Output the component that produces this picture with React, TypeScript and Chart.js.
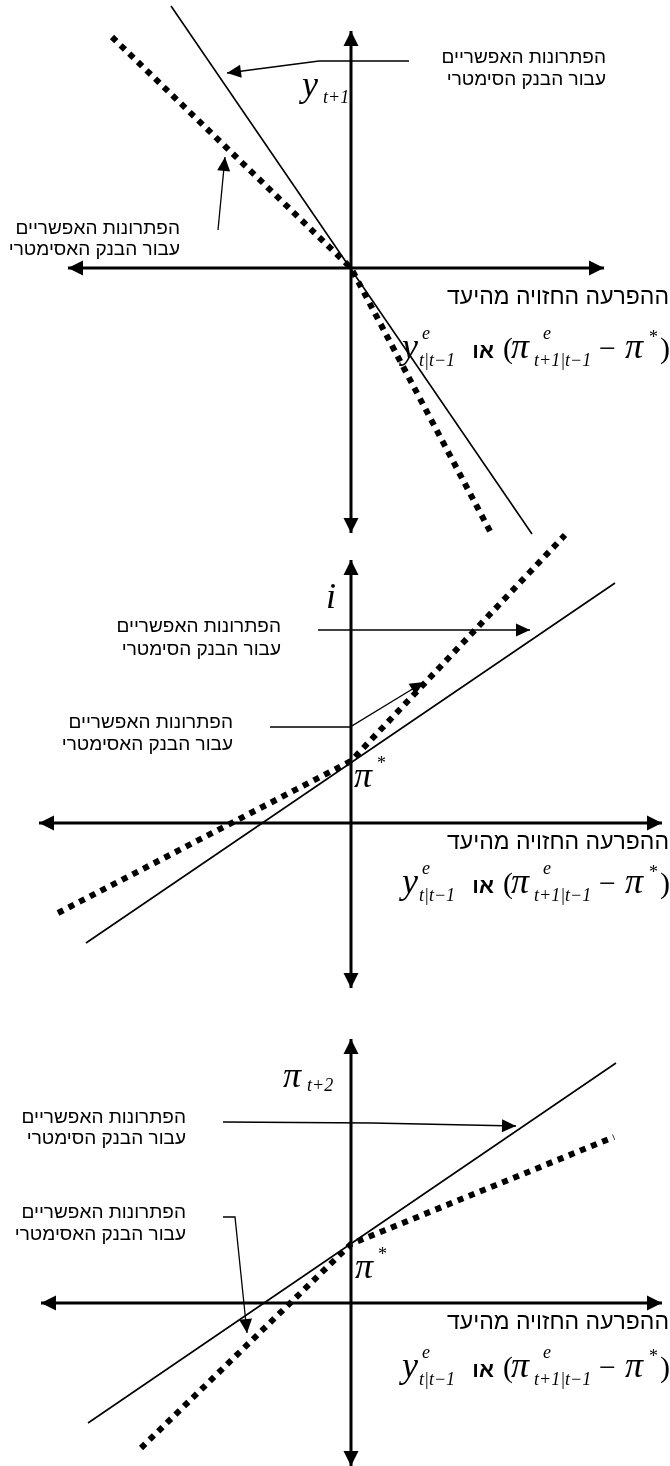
import React, { useEffect, useRef } from "react";
import { Chart, registerables } from "chart.js";

Chart.register(...registerables);

// ---------- data (units: origin at axes intersection, y up) ----------
// Panel 1: y_{t+1}
const p1HAxis = [{ x: -28.3, y: 0 }, { x: 25.3, y: 0 }];
const p1VAxis = [{ x: 0, y: 23.7 }, { x: 0, y: -26.5 }];
const p1Symmetric = [{ x: -18.0, y: 26.2 }, { x: 18.1, y: -26.6 }];
const p1Asymmetric = [{ x: -23.9, y: 23.1 }, { x: 0, y: 0 }, { x: 14.1, y: -26.7 }];
const p1SymPointer = [{ x: 5.8, y: 20.7 }, { x: -3.2, y: 20.7 }, { x: -12.4, y: 19.5 }];
const p1AsymPointer = [{ x: -13.3, y: 3.8 }, { x: -12.6, y: 11.1 }];

// Panel 2: i
const p2HAxis = [{ x: -31.2, y: 0 }, { x: 31.1, y: 0 }];
const p2VAxis = [{ x: 0, y: 26.3 }, { x: 0, y: -16.5 }];
const p2Symmetric = [{ x: -26.5, y: -12.0 }, { x: 26.4, y: 24.0 }];
const p2Asymmetric = [{ x: -29.3, y: -9.0 }, { x: 0, y: 6.2 }, { x: 21.4, y: 28.8 }];
const p2SymPointer = [{ x: -3.3, y: 19.3 }, { x: 17.9, y: 19.3 }];
const p2AsymPointer = [{ x: -8.1, y: 9.6 }, { x: -0.1, y: 9.6 }, { x: 7.3, y: 14.1 }];

// Panel 3: pi_{t+2}
const p3HAxis = [{ x: -31.0, y: 0 }, { x: 31.1, y: 0 }];
const p3VAxis = [{ x: 0, y: 26.4 }, { x: 0, y: -16.3 }];
const p3Symmetric = [{ x: -26.3, y: -12.0 }, { x: 26.5, y: 24.0 }];
const p3Asymmetric = [{ x: -21.0, y: -14.5 }, { x: 0, y: 5.9 }, { x: 26.3, y: 16.6 }];
const p3SymPointer = [{ x: -12.8, y: 18.1 }, { x: 2.1, y: 18.0 }, { x: 16.5, y: 17.7 }];
const p3AsymPointer = [{ x: -12.8, y: 8.6 }, { x: -11.6, y: 8.6 }, { x: -10.4, y: -3.0 }];

// ---------- text ----------
const SYM_LINES = ["הפתרונות האפשריים", "עבור הבנק הסימטרי"];
const ASYM_LINES = ["הפתרונות האפשריים", "עבור הבנק האסימטרי"];
const X_LABEL = "ההפרעה החזויה מהיעד";
const OR_WORD = "או";

// ---------- layout ----------
const CANVAS_W = 670;
const CANVAS_H = 1466;
const UNIT_PX = 10;
const PANEL_ORIGINS: [number, number][] = [
  [351, 268],
  [351, 823],
  [351, 1303],
];

const HEB_FONT = '"Liberation Sans", Arial, "DejaVu Sans", sans-serif';
const MATH_FONT = '"Liberation Serif", "Times New Roman", serif';

type PanelLayout = {
  sym: [number, number, number]; // right dx, first line dy, line gap
  asym: [number, number, number];
  xLabelDy: number;
  formulaDy: number;
};
const PANEL_LAYOUT: PanelLayout[] = [
  { sym: [255, -210, 22], asym: [-171, -39, 21], xLabelDy: 30, formulaDy: 90 },
  { sym: [-70, -196, 23], asym: [-118, -100, 22], xLabelDy: 20, formulaDy: 70 },
  { sym: [-165, -185, 21], asym: [-165, -90, 22], xLabelDy: 20, formulaDy: 74 },
];

const AXIS_W = 3;
const AXIS_HEAD: [number, number] = [15, 7.5];
const PTR_HEAD: [number, number] = [14, 6.5];

function lineDs(panel: number, data: any[], kind: "axis" | "solid" | "dotted" | "pointer", extra: any = {}) {
  const base: any = {
    data,
    xAxisID: "x" + panel,
    yAxisID: "y" + panel,
    showLine: true,
    pointRadius: 0,
    borderColor: "#000",
    backgroundColor: "#000",
    fill: false,
    tension: 0,
  };
  if (kind === "axis") {
    base.borderWidth = AXIS_W;
    base.arrowStart = AXIS_HEAD;
    base.arrowEnd = AXIS_HEAD;
  } else if (kind === "solid") {
    base.borderWidth = 1.6;
  } else if (kind === "dotted") {
    base.borderWidth = 6;
    base.borderDash = [6, 6];
    base.borderCapStyle = "butt";
    base.borderJoinStyle = "miter";
  } else {
    base.borderWidth = 1.3;
    base.arrowEnd = PTR_HEAD;
  }
  return { ...base, ...extra };
}

function drawHead(ctx: CanvasRenderingContext2D, from: any, to: any, head: [number, number]) {
  const dx = to.x - from.x;
  const dy = to.y - from.y;
  const len = Math.hypot(dx, dy) || 1;
  const ux = dx / len;
  const uy = dy / len;
  const bx = to.x - ux * head[0];
  const by = to.y - uy * head[0];
  const nx = -uy;
  const ny = ux;
  ctx.beginPath();
  ctx.moveTo(to.x, to.y);
  ctx.lineTo(bx + nx * head[1], by + ny * head[1]);
  ctx.lineTo(bx - nx * head[1], by - ny * head[1]);
  ctx.closePath();
  ctx.fill();
}

function txt(ctx: CanvasRenderingContext2D, s: string, x: number, y: number, font: string, align: CanvasTextAlign = "left", dir: CanvasDirection = "ltr", baseline: CanvasTextBaseline = "alphabetic") {
  ctx.font = font;
  ctx.textAlign = align;
  ctx.direction = dir;
  ctx.textBaseline = baseline;
  ctx.fillText(s, x, y);
}

const BIG = "italic 36px " + MATH_FONT;
const SMALL = "italic 18px " + MATH_FONT;
const UPRIGHT = "30px " + MATH_FONT;
const STAR = "18px " + MATH_FONT;

function drawFormula(ctx: CanvasRenderingContext2D, x0: number, base: number) {
  txt(ctx, "y", x0 - 2, base, BIG);
  txt(ctx, "e", x0 + 18, base - 19, SMALL);
  txt(ctx, "t|t−1", x0 + 15, base + 8, SMALL);
  txt(ctx, OR_WORD, x0 + 90, base, "bold 22px " + HEB_FONT, "right", "rtl");
  txt(ctx, "(", x0 + 99, base, UPRIGHT);
  txt(ctx, "π", x0 + 107, base, BIG);
  txt(ctx, "e", x0 + 139, base - 19, SMALL);
  txt(ctx, "t+1|t−1", x0 + 130, base + 8, SMALL);
  txt(ctx, "−", x0 + 195, base, UPRIGHT);
  txt(ctx, "π", x0 + 221, base, BIG);
  txt(ctx, "*", x0 + 245, base - 15, STAR);
  txt(ctx, ")", x0 + 256, base, UPRIGHT);
}

const overlayPlugin = {
  id: "overlay",
  afterDatasetsDraw(chart: any) {
    const ctx: CanvasRenderingContext2D = chart.ctx;
    ctx.save();
    ctx.fillStyle = "#000";
    chart.data.datasets.forEach((ds: any, i: number) => {
      const pts = chart.getDatasetMeta(i).data;
      if (ds.arrowEnd) drawHead(ctx, pts[pts.length - 2], pts[pts.length - 1], ds.arrowEnd);
      if (ds.arrowStart) drawHead(ctx, pts[1], pts[0], ds.arrowStart);
    });

    PANEL_LAYOUT.forEach((L, p) => {
      const ox = chart.scales["x" + p].getPixelForValue(0);
      const oy = chart.scales["y" + p].getPixelForValue(0);
      const annFont = "19px " + HEB_FONT;
      SYM_LINES.forEach((s, k) => txt(ctx, s, ox + L.sym[0], oy + L.sym[1] + k * L.sym[2], annFont, "right", "rtl", "middle"));
      ASYM_LINES.forEach((s, k) => txt(ctx, s, ox + L.asym[0], oy + L.asym[1] + k * L.asym[2], annFont, "right", "rtl", "middle"));
      txt(ctx, X_LABEL, ox + 318, oy + L.xLabelDy, "23px " + HEB_FONT, "right", "rtl", "middle");
      drawFormula(ctx, ox + 53, oy + L.formulaDy);

      if (p === 0) {
        txt(ctx, "y", ox - 49, oy - 172, BIG);
        txt(ctx, "t+1", ox - 28, oy - 165, SMALL);
      } else if (p === 1) {
        txt(ctx, "i", ox - 25, oy - 215, BIG);
        txt(ctx, "π", ox + 3, oy - 36, BIG);
        txt(ctx, "*", ox + 26, oy - 54, STAR);
      } else {
        txt(ctx, "π", ox - 68, oy - 216, BIG);
        txt(ctx, "t+2", ox - 44, oy - 212, SMALL);
        txt(ctx, "π", ox + 4, oy - 25, BIG);
        txt(ctx, "*", ox + 27, oy - 43, STAR);
      }
    });
    ctx.restore();
  },
};

export default function App() {
  const ref = useRef<HTMLCanvasElement | null>(null);

  useEffect(() => {
    if (!ref.current) return;
    const scales: any = {};
    PANEL_ORIGINS.forEach(([ox, oy], p) => {
      scales["x" + p] = { type: "linear", axis: "x", display: false, min: -ox / UNIT_PX, max: (CANVAS_W - ox) / UNIT_PX };
      scales["y" + p] = { type: "linear", axis: "y", display: false, min: -(CANVAS_H - oy) / UNIT_PX, max: oy / UNIT_PX };
    });

    const datasets = [
      lineDs(0, p1HAxis, "axis"),
      lineDs(0, p1VAxis, "axis"),
      lineDs(0, p1Symmetric, "solid"),
      lineDs(0, p1Asymmetric, "dotted"),
      lineDs(0, p1SymPointer, "pointer"),
      lineDs(0, p1AsymPointer, "pointer"),
      lineDs(1, p2HAxis, "axis"),
      lineDs(1, p2VAxis, "axis"),
      lineDs(1, p2Symmetric, "solid"),
      lineDs(1, p2Asymmetric, "dotted"),
      lineDs(1, p2SymPointer, "pointer"),
      lineDs(1, p2AsymPointer, "pointer"),
      lineDs(2, p3HAxis, "axis"),
      lineDs(2, p3VAxis, "axis"),
      lineDs(2, p3Symmetric, "solid"),
      lineDs(2, p3Asymmetric, "dotted"),
      lineDs(2, p3SymPointer, "pointer"),
      lineDs(2, p3AsymPointer, "pointer"),
    ];

    const chart = new Chart(ref.current, {
      type: "scatter",
      data: { datasets },
      options: {
        animation: false,
        responsive: false,
        devicePixelRatio: 1,
        layout: { padding: 0 },
        scales,
        plugins: { legend: { display: false }, tooltip: { enabled: false }, title: { display: false } },
        events: [],
      },
      plugins: [overlayPlugin],
    } as any);
    return () => chart.destroy();
  }, []);

  return (
    <div style={{ position: "absolute", left: 0, top: 0, width: CANVAS_W, height: CANVAS_H, background: "#fff" }}>
      <canvas ref={ref} width={CANVAS_W} height={CANVAS_H} style={{ display: "block" }} />
    </div>
  );
}
